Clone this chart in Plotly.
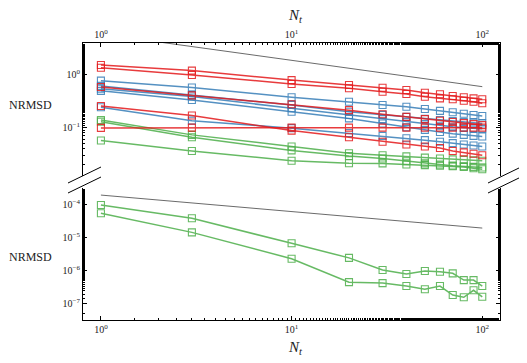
import plotly.graph_objects as go

# --- Datos ---
Nt = [1, 3, 10, 20, 30, 40, 50, 60, 70, 80, 90, 100]

rojo = [
    [1.55, 1.21, 0.80, 0.646, 0.574, 0.52, 0.46, 0.43, 0.40, 0.378, 0.36, 0.346],
    [1.37, 1.00, 0.675, 0.56, 0.48, 0.436, 0.387, 0.36, 0.346, 0.325, 0.31, 0.29],
    [0.59, 0.41, 0.278, 0.215, 0.18, 0.16, 0.145, 0.135, 0.128, 0.122, 0.117, 0.112],
    [0.258, 0.17, 0.088, 0.066, 0.054, 0.048, 0.044, 0.041, 0.036, 0.034, 0.032, 0.030],
    [0.099, 0.10, 0.10, 0.10, 0.10, 0.10, 0.10, 0.10, 0.10, 0.10, 0.10, 0.10],
]
azul = [
    [0.78, 0.58, 0.377, 0.311, 0.27, 0.25, 0.226, 0.208, 0.196, 0.184, 0.174, 0.167],
    [0.62, 0.42, 0.27, 0.20, 0.175, 0.16, 0.148, 0.14, 0.133, 0.128, 0.124, 0.12],
    [0.55, 0.39, 0.233, 0.174, 0.145, 0.128, 0.117, 0.109, 0.104, 0.10, 0.097, 0.095],
    [0.50, 0.335, 0.20, 0.15, 0.12, 0.102, 0.091, 0.083, 0.077, 0.073, 0.07, 0.068],
    [0.244, 0.136, 0.098, 0.079, 0.07, 0.063, 0.058, 0.054, 0.051, 0.048, 0.046, 0.044],
]
verde = [
    [0.14, 0.073, 0.044, 0.0327, 0.030, 0.0285, 0.027, 0.026, 0.025, 0.0245, 0.024, 0.0235],
    [0.13, 0.066, 0.037, 0.029, 0.026, 0.023, 0.021, 0.020, 0.019, 0.0185, 0.018, 0.0175],
    [0.057, 0.036, 0.0236, 0.0211, 0.021, 0.020, 0.0195, 0.019, 0.0185, 0.018, 0.017, 0.0163],
]
verde_bajo = [
    [1.0e-4, 3.95e-5, 6.9e-6, 2.5e-6, 1.07e-6, 8.1e-7, 1.0e-6, 9.5e-7, 8.5e-7, 5.3e-7, 5.3e-7, 3.5e-7],
    [5.6e-5, 1.48e-5, 2.36e-6, 4.6e-7, 4.3e-7, 3.5e-7, 2.8e-7, 3.5e-7, 1.87e-7, 1.6e-7, 2.6e-7, 1.65e-7],
]

ref_N = [1, 100]
ref_arriba = [6.0, 0.6]
ref_abajo = [2.0e-4, 2.0e-5]

ticks_x = [1, 10, 100]
ticks_x_txt = ["10<sup>0</sup>", "10<sup>1</sup>", "10<sup>2</sup>"]
ticks_y1 = [1, 0.1]
ticks_y1_txt = ["10<sup>0</sup>", "10<sup>−1</sup>"]
ticks_y2 = [1e-4, 1e-5, 1e-6, 1e-7]
ticks_y2_txt = ["10<sup>−4</sup>", "10<sup>−5</sup>", "10<sup>−6</sup>", "10<sup>−7</sup>"]

colores = {"rojo": "rgb(228,26,28)", "azul": "rgb(55,126,184)", "verde": "rgb(77,175,74)"}
fuente = "Liberation Serif"

fig = go.Figure()


def serie(y, color, xa, ya):
    fig.add_trace(go.Scatter(
        x=Nt, y=y, mode="lines+markers", xaxis=xa, yaxis=ya,
        line=dict(color=color, width=1.5),
        marker=dict(symbol="square-open", size=7, color=color, line=dict(width=1.1)),
        opacity=0.85, showlegend=False,
    ))


fig.add_trace(go.Scatter(x=ref_N, y=ref_arriba, mode="lines", xaxis="x", yaxis="y",
                         line=dict(color="#444444", width=0.8), showlegend=False))
fig.add_trace(go.Scatter(x=ref_N, y=ref_abajo, mode="lines", xaxis="x2", yaxis="y2",
                         line=dict(color="#444444", width=0.8), showlegend=False))

for s in verde:
    serie(s, colores["verde"], "x", "y")
for s in azul:
    serie(s, colores["azul"], "x", "y")
for s in rojo:
    serie(s, colores["rojo"], "x", "y")
for s in verde_bajo:
    serie(s, colores["verde"], "x2", "y2")

ejes = dict(type="log", showgrid=False, zeroline=False, showline=True, linecolor="black",
            linewidth=1.2, ticks="inside", ticklen=4, tickcolor="black",
            tickfont=dict(family=fuente, size=10, color="#222222"),
            minor=dict(ticks="inside", ticklen=2, tickcolor="black", showgrid=False))

# la página deja 8 px de margen arriba/izquierda del gráfico
fig.update_layout(
    width=519, height=355,
    margin=dict(l=75, r=27, t=35, b=43),
    plot_bgcolor="white", paper_bgcolor="white",
    xaxis=dict(**ejes, anchor="y", side="top", range=[-0.094, 2.093],
               tickvals=ticks_x, ticktext=ticks_x_txt),
    yaxis=dict(**ejes, domain=[0.5199, 1], anchor="x", range=[-1.917, 0.607], mirror="ticks",
               tickvals=ticks_y1, ticktext=ticks_y1_txt),
    xaxis2=dict(**ejes, anchor="y2", side="bottom", range=[-0.094, 2.093], matches="x",
                tickvals=ticks_x, ticktext=ticks_x_txt),
    yaxis2=dict(**ejes, domain=[0, 0.4765], anchor="x2", range=[-7.485, -3.485], mirror="ticks",
                tickvals=ticks_y2, ticktext=ticks_y2_txt),
)


# pixeles de la página -> coordenadas paper
def px(x):
    return (x - 83) / 417


def py(y):
    return (320 - y) / 277


# --- Textos ---
for yy in [16, 348]:
    fig.add_annotation(text="<i>N</i><sub><i>t</i></sub>", x=px(295), y=py(yy),
                       xref="paper", yref="paper", showarrow=False,
                       xanchor="center", yanchor="middle", borderpad=0,
                       font=dict(family=fuente, size=15, color="#222222"))
for yy in [105, 257]:
    fig.add_annotation(text="NRMSD", x=px(30), y=py(yy), xref="paper", yref="paper",
                       showarrow=False, xanchor="center", yanchor="middle", borderpad=0,
                       font=dict(family=fuente, size=12, color="#222222"))

# --- Marcas de eje partido ---
for x0 in [68, 488]:
    for y0 in [183, 193]:
        fig.add_shape(type="line", xref="paper", yref="paper",
                      x0=px(x0), y0=py(y0), x1=px(x0 + 33), y1=py(y0 - 16),
                      line=dict(color="black", width=1))

fig.write_html("out.html")
